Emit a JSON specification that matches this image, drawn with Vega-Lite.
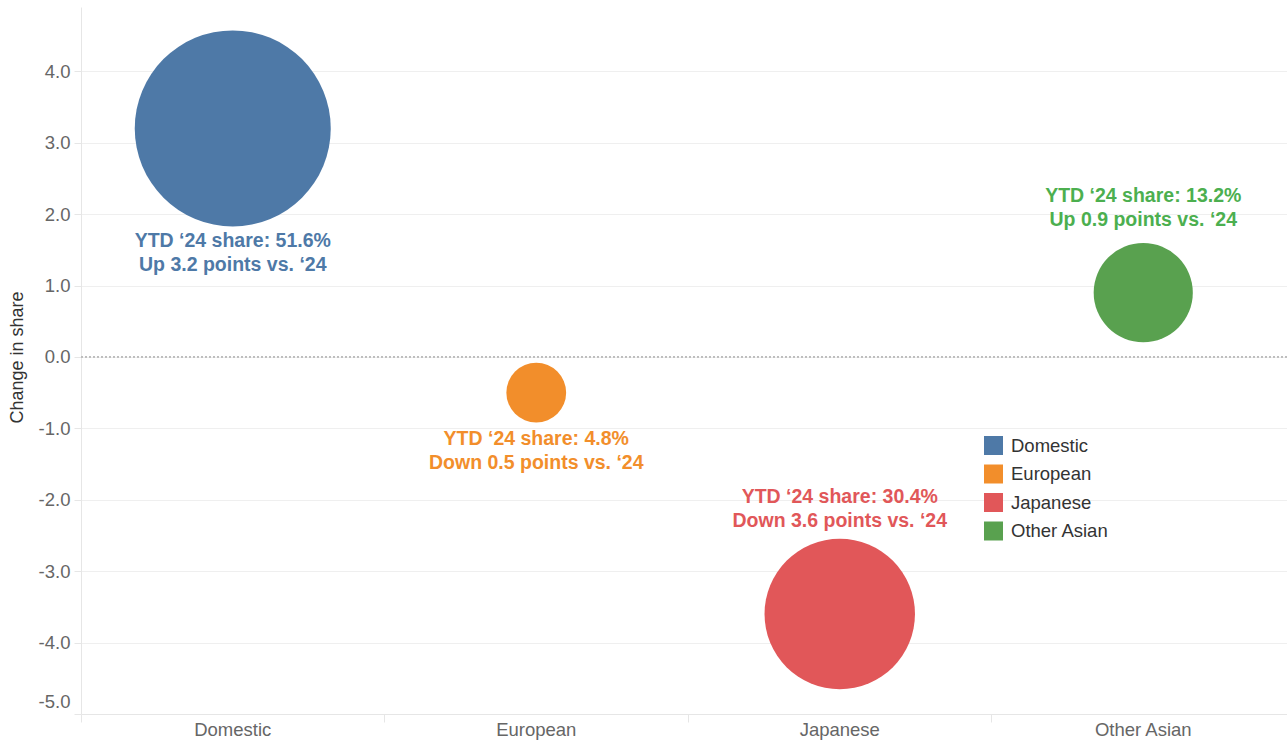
{
  "$schema": "https://vega.github.io/schema/vega-lite/v6.json",
  "autosize": {"type": "none"},
  "padding": {"left": 81, "top": 7, "right": 0, "bottom": 26},
  "width": 1206,
  "height": 707,
  "background": "white",
  "config": {
    "view": {"stroke": null},
    "font": "Liberation Sans"
  },
  "data": {
    "values": [
      {"origin": "Domestic", "change": 3.2, "share": 51.6, "label": "YTD ‘24 share: 51.6%\nUp 3.2 points vs. ‘24"},
      {"origin": "European", "change": -0.5, "share": 4.8, "label": "YTD ‘24 share: 4.8%\nDown 0.5 points vs. ‘24"},
      {"origin": "Japanese", "change": -3.6, "share": 30.4, "label": "YTD ‘24 share: 30.4%\nDown 3.6 points vs. ‘24"},
      {"origin": "Other Asian", "change": 0.9, "share": 13.2, "label": "YTD ‘24 share: 13.2%\nUp 0.9 points vs. ‘24"}
    ]
  },
  "encoding": {
    "x": {
      "field": "origin", "type": "nominal",
      "scale": {"type": "band", "range": [0, 1214], "paddingInner": 0, "paddingOuter": 0},
      "axis": {
        "title": null, "bandPosition": 0, "labelAngle": 0,
        "labelFontSize": 18.5, "labelColor": "#666666", "labelPadding": -2,
        "domainColor": "#e6e6e6", "tickColor": "#e6e6e6", "tickSize": 8, "grid": false
      }
    },
    "y": {
      "field": "change", "type": "quantitative",
      "scale": {"domain": [-5, 4.9], "nice": false, "zero": false},
      "axis": {
        "title": "Change in share", "titleFontSize": 18, "titleFontWeight": "normal", "titleColor": "#333333",
        "titleX": -64, "titleY": 350, "titleBaseline": "middle", "titleAngle": -90,
        "values": [-5, -4, -3, -2, -1, 0, 1, 2, 3, 4],
        "labelExpr": "replace(format(datum.value, '.1f'), '\u2212', '-')",
        "labelFontSize": 18.5, "labelColor": "#666666", "labelPadding": 4,
        "labelFlush": true, "labelFlushOffset": -3,
        "domainColor": "#e6e6e6", "tickColor": "#e6e6e6", "tickSize": 7,
        "grid": true, "gridColor": "#efefef"
      }
    }
  },
  "layer": [
    {
      "mark": {"type": "rule", "color": "#bbbbbb", "strokeDash": [2, 2], "strokeWidth": 1},
      "encoding": {"y": {"datum": 0}, "x": {"value": 0}, "x2": {"value": 1206}}
    },
    {
      "mark": {"type": "point", "shape": "circle", "filled": true, "opacity": 1, "strokeWidth": 0},
      "encoding": {
        "size": {"field": "share", "type": "quantitative", "scale": {"domain": [0, 51.6], "range": [0, 38416]}, "legend": null},
        "color": {
          "field": "origin", "type": "nominal",
          "scale": {"domain": ["Domestic", "European", "Japanese", "Other Asian"], "range": ["#4e79a7", "#f28e2b", "#e15759", "#59a14f"]},
          "legend": {
            "title": null, "orient": "none", "legendX": 903, "legendY": 429,
            "symbolType": "square", "symbolSize": 361, "symbolStrokeWidth": 0, "symbolOpacity": 1,
            "labelFontSize": 18.5, "labelColor": "#333333", "labelOffset": 8, "rowPadding": 9.5, "padding": 0
          }
        }
      }
    },
    {
      "transform": [{"filter": "datum.origin == 'Domestic'"}],
      "mark": {"type": "text", "fontSize": 19.5, "fontWeight": "bold", "lineBreak": "\n", "lineHeight": 24, "baseline": "alphabetic", "align": "center", "dy": 119, "color": "#4e79a7"},
      "encoding": {"text": {"field": "label"}}
    },
    {
      "transform": [{"filter": "datum.origin == 'European'"}],
      "mark": {"type": "text", "fontSize": 19.5, "fontWeight": "bold", "lineBreak": "\n", "lineHeight": 24, "baseline": "alphabetic", "align": "center", "dy": 52, "color": "#f28e2b"},
      "encoding": {"text": {"field": "label"}}
    },
    {
      "transform": [{"filter": "datum.origin == 'Japanese'"}],
      "mark": {"type": "text", "fontSize": 19.5, "fontWeight": "bold", "lineBreak": "\n", "lineHeight": 24, "baseline": "alphabetic", "align": "center", "dy": -111, "color": "#e15759"},
      "encoding": {"text": {"field": "label"}}
    },
    {
      "transform": [{"filter": "datum.origin == 'Other Asian'"}],
      "mark": {"type": "text", "fontSize": 19.5, "fontWeight": "bold", "lineBreak": "\n", "lineHeight": 24, "baseline": "alphabetic", "align": "center", "dy": -91, "color": "#4caf4f"},
      "encoding": {"text": {"field": "label"}}
    }
  ]
}
